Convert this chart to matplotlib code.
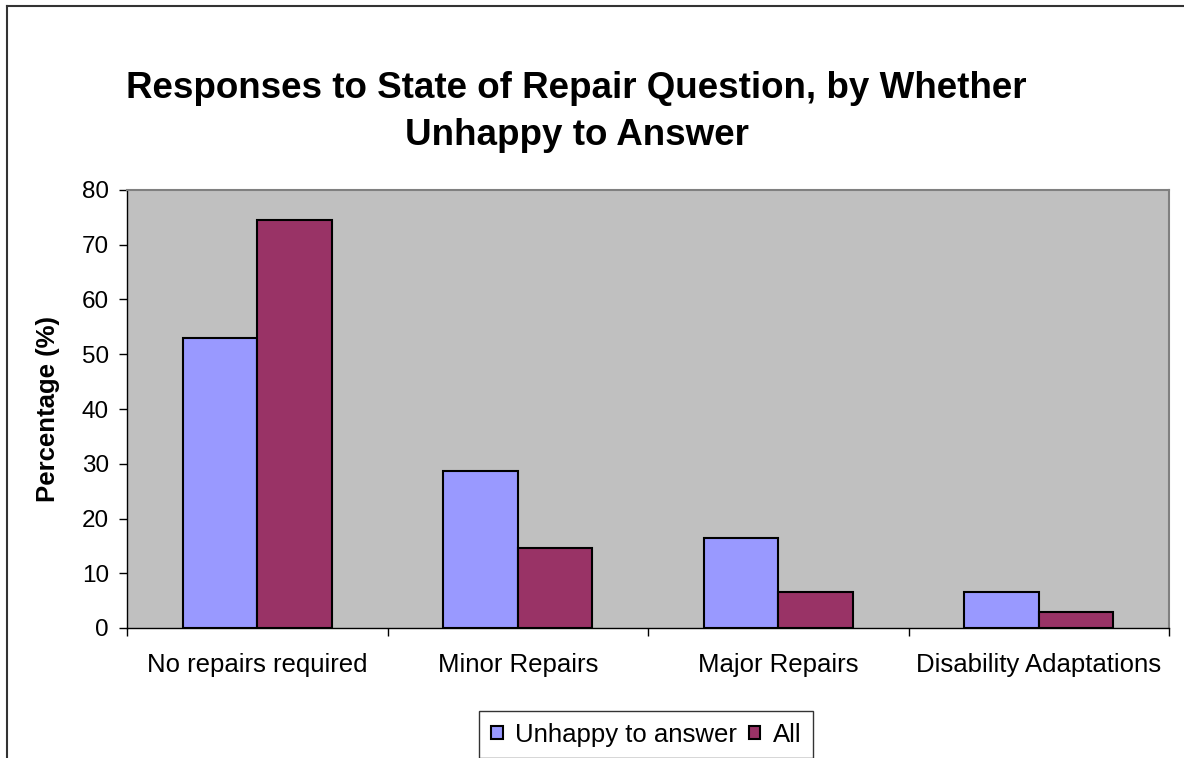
import matplotlib.pyplot as plt
from matplotlib.lines import Line2D
import numpy as np

plt.rcParams['font.family'] = ['Liberation Sans', 'DejaVu Sans']

# data
categories = ["No repairs required", "Minor Repairs", "Major Repairs", "Disability Adaptations"]
unhappy = [53.0, 28.6, 16.5, 6.6]
all_resp = [74.6, 14.7, 6.6, 3.0]
series_names = ["Unhappy to answer", "All"]
y_ticks = [0, 10, 20, 30, 40, 50, 60, 70, 80]

fig = plt.figure(figsize=(11.84, 7.58), dpi=100)
ax = fig.add_axes([127 / 1184, 1 - 628 / 758, 1042 / 1184, 438 / 758])
ax.set_facecolor('#C0C0C0')

x = np.arange(len(categories))
w = 1 / 3.5
ax.bar(x - w / 2, unhappy, w, color='#9999FF', edgecolor='black', linewidth=1.5, label=series_names[0])
ax.bar(x + w / 2, all_resp, w, color='#993366', edgecolor='black', linewidth=1.5, label=series_names[1])

ax.set_xlim(-0.5, len(categories) - 0.5)
ax.set_ylim(0, 80)
ax.set_yticks(y_ticks)
ax.tick_params(axis='y', labelsize=17.5, length=6, width=1, direction='out', pad=7)

# ticks on category boundaries, labels in the middle
ax.set_xticks(np.arange(len(categories) + 1) - 0.5)
ax.set_xticklabels([])
ax.set_xticks(x, minor=True)
ax.set_xticklabels(categories, minor=True, fontsize=18.5)
ax.tick_params(axis='x', which='major', length=6, width=1, direction='out')
ax.tick_params(axis='x', which='minor', length=0, pad=18)

for s in ['top', 'right']:
    ax.spines[s].set_color('#808080')
    ax.spines[s].set_linewidth(1.5)
for s in ['left', 'bottom']:
    ax.spines[s].set_color('black')
    ax.spines[s].set_linewidth(1)

ax.set_ylabel('Percentage (%)', fontsize=18.5, fontweight='bold')
ax.yaxis.set_label_coords(-0.064, 0.5)

fig.text(0.487, 1 - 112 / 758, 'Responses to State of Repair Question, by Whether\nUnhappy to Answer',
         ha='center', va='center', fontsize=26.5, fontweight='bold', linespacing=1.42)

leg = fig.legend(loc='upper center', bbox_to_anchor=(0.546, 1 - 711 / 758), ncol=2, fontsize=18.5,
                 frameon=True, fancybox=False, handlelength=0.45, handleheight=0.45,
                 handletextpad=0.5, columnspacing=0.45, borderpad=0.45, borderaxespad=0)
leg.get_frame().set_edgecolor('black')
leg.get_frame().set_linewidth(1)

# chart border (left and top edges visible)
fig.add_artist(Line2D([7 / 1184, 7 / 1184], [0, 1 - 6 / 758], color='#333333', linewidth=1.5))
fig.add_artist(Line2D([7 / 1184, 1], [1 - 6 / 758, 1 - 6 / 758], color='#333333', linewidth=1.5))

fig.savefig('out.png', dpi=100)
